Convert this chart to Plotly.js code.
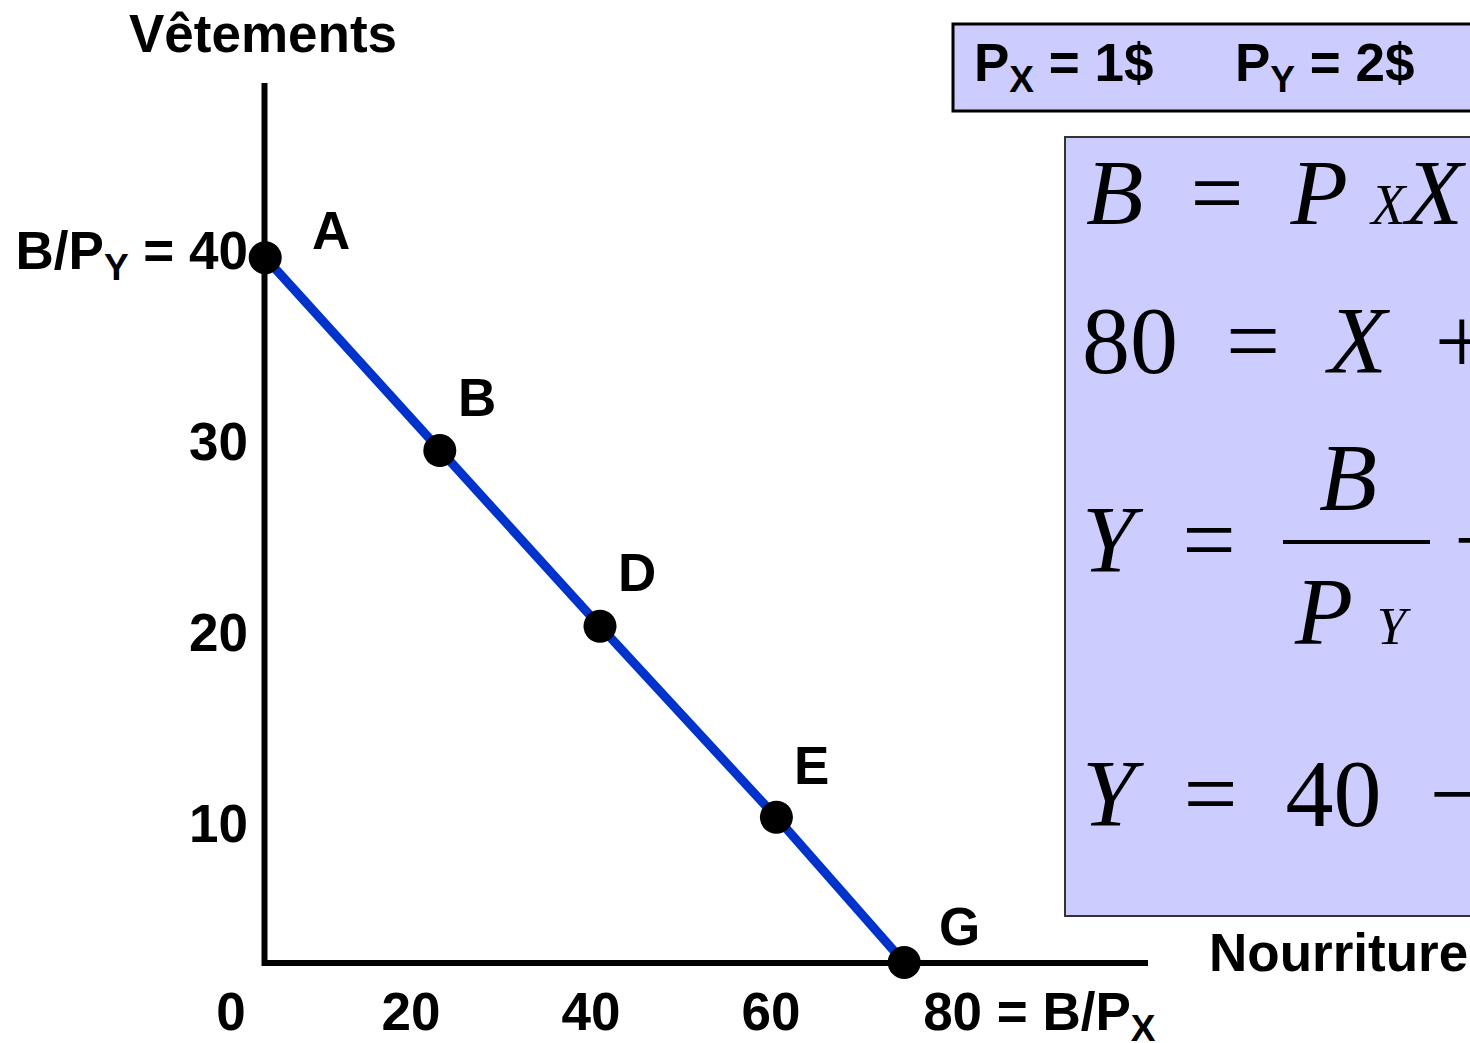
<!DOCTYPE html>
<html>
<head>
<meta charset="utf-8">
<script src="https://cdn.plot.ly/plotly-3.0.1.min.js"></script>
<style>html,body{margin:0;padding:0;overflow:hidden;background:#fff}</style>
</head>
<body>
<div id="chart" style="width:1470px;height:1043px"></div>
<script>
// ---- data ----
const pointLabels = ['A', 'B', 'D', 'E', 'G'];
const foodX = [3.8, 23.2, 41.0, 60.6, 74.8];      // Nourriture
const clothesY = [39.6, 29.5, 20.3, 10.3, 2.7];  // Vêtements
const xTickVals = [0, 20, 40, 60, 80];
const xTickText = ['0', '20', '40', '60', '80 = B/P<sub>X</sub>'];
const yTickVals = [10, 20, 30, 40];
const yTickText = ['10', '20', '30', 'B/P<sub>Y</sub> = 40'];
const priceTexts = ['P<sub>X</sub> = 1$', 'P<sub>Y</sub> = 2$'];

// ---- layout helpers ----
const W = 1470, H = 1043, MB = 67, PH = H - MB;
const X0 = 231, XS = 9;        // pixel of x=0, px per unit
const Y0 = 1014, YS = 19.1;    // pixel of y=0, px per unit
const px = p => p / W;
const py = p => (PH - p) / PH;
const SANS = 'Liberation Sans, Arial, sans-serif';
const SERIF = 'Liberation Serif, Times New Roman, serif';
const BOLD = {family: SANS, size: 53, color: '#000', weight: 'bold'};
const NB = '\u00a0';
const pad80 = NB.repeat(12);

const labelShift = [[66, 27], [37, 53], [37, 54], [35, 52], [55, 36]];

const trace = {
  x: foodX, y: clothesY, type: 'scatter', mode: 'lines+markers',
  line: {color: '#0033cc', width: 9},
  marker: {color: '#000', size: 33},
  cliponaxis: false, hoverinfo: 'skip', showlegend: false
};

const annotations = [];
pointLabels.forEach((t, i) => annotations.push({
  x: foodX[i], y: clothesY[i], xref: 'x', yref: 'y', text: t, showarrow: false,
  xshift: labelShift[i][0], yshift: labelShift[i][1], font: BOLD,
  xanchor: 'center', yanchor: 'middle'
}));
function ann(x, y, text, font, xa) {
  annotations.push({x: px(x), y: py(y), xref: 'paper', yref: 'paper', text: text,
    showarrow: false, font: font, xanchor: xa || 'left', yanchor: 'middle'});
}
ann(263, 33, 'Vêtements', BOLD, 'center');
ann(1338, 952, 'Nourriture', BOLD, 'center');
ann(972, 66, priceTexts[0], BOLD);
ann(1233, 66, priceTexts[1], BOLD);

const sp = NB + NB;
const small = (t, s) => `<span style="font-size:${s}px"><i>${t}</i></span>`;
const EQ = s => ({family: SERIF, size: s, color: '#000'});
ann(1084, 192, `<i>B</i>${sp}=${sp}<i>P</i>${NB}${small('X', 56)}<i>X</i>${sp}+${sp}<i>P</i>${NB}${small('Y', 56)}<i>Y</i>`, EQ(94));
ann(1080, 340, `80${sp}=${sp}<i>X</i>${sp}+${sp}2<i>Y</i>`, EQ(96));
ann(1080, 540, `<i>Y</i>${sp}=`, EQ(95));
ann(1348, 478, '<i>B</i>', EQ(95), 'center');
ann(1353, 612, `<i>P</i>${NB}${small('Y', 53)}`, EQ(95), 'center');
ann(1452, 540, `\u2212${sp}(<i>P</i>${small('X', 53)}/<i>P</i>${small('Y', 53)})<i>X</i>`, EQ(95));
ann(1080, 793, `<i>Y</i>${sp}=${sp}40${sp}\u2212${sp}½<i>X</i>`, EQ(96));

const shapes = [
  {type: 'rect', xref: 'paper', yref: 'paper', x0: px(953), x1: px(1520), y0: py(24), y1: py(111),
   fillcolor: '#ccccff', line: {color: '#000', width: 3}, layer: 'below'},
  {type: 'rect', xref: 'paper', yref: 'paper', x0: px(1065), x1: px(1520), y0: py(137), y1: py(916),
   fillcolor: '#ccccff', line: {color: '#333', width: 2}, layer: 'below'},
  {type: 'line', xref: 'paper', yref: 'paper', x0: px(1283), x1: px(1430), y0: py(542), y1: py(542),
   line: {color: '#000', width: 4}},
  {type: 'line', xref: 'paper', yref: 'paper', x0: px(264.5), x1: px(264.5), y0: py(83), y1: py(966),
   line: {color: '#000', width: 6}, layer: 'below'},
  {type: 'line', xref: 'paper', yref: 'paper', x0: px(262), x1: px(1148), y0: py(963), y1: py(963),
   line: {color: '#000', width: 6}, layer: 'below'}
];

const layout = {
  width: W, height: H, margin: {l: 0, r: 0, t: 0, b: MB, autoexpand: false},
  paper_bgcolor: '#fff', plot_bgcolor: 'rgba(0,0,0,0)', showlegend: false,
  xaxis: {domain: [0, 1], range: [-X0 / XS, (W - X0) / XS], showgrid: false, zeroline: false,
    showline: false, ticks: '', tickangle: 0, automargin: false, tickvals: xTickVals,
    ticktext: xTickText.map((t, i) => i === 4 ? pad80 + t : t), tickfont: BOLD, fixedrange: true},
  yaxis: {domain: [0, 1], range: [(Y0 - PH) / YS, Y0 / YS], showgrid: false, zeroline: false,
    showline: false, ticks: '', tickvals: yTickVals, ticktext: yTickText, tickfont: BOLD,
    automargin: false, anchor: 'free', position: px(248), fixedrange: true},
  shapes: shapes, annotations: annotations
};

Plotly.newPlot('chart', [trace], layout, {staticPlot: true, displayModeBar: false});
</script>
</body>
</html>
